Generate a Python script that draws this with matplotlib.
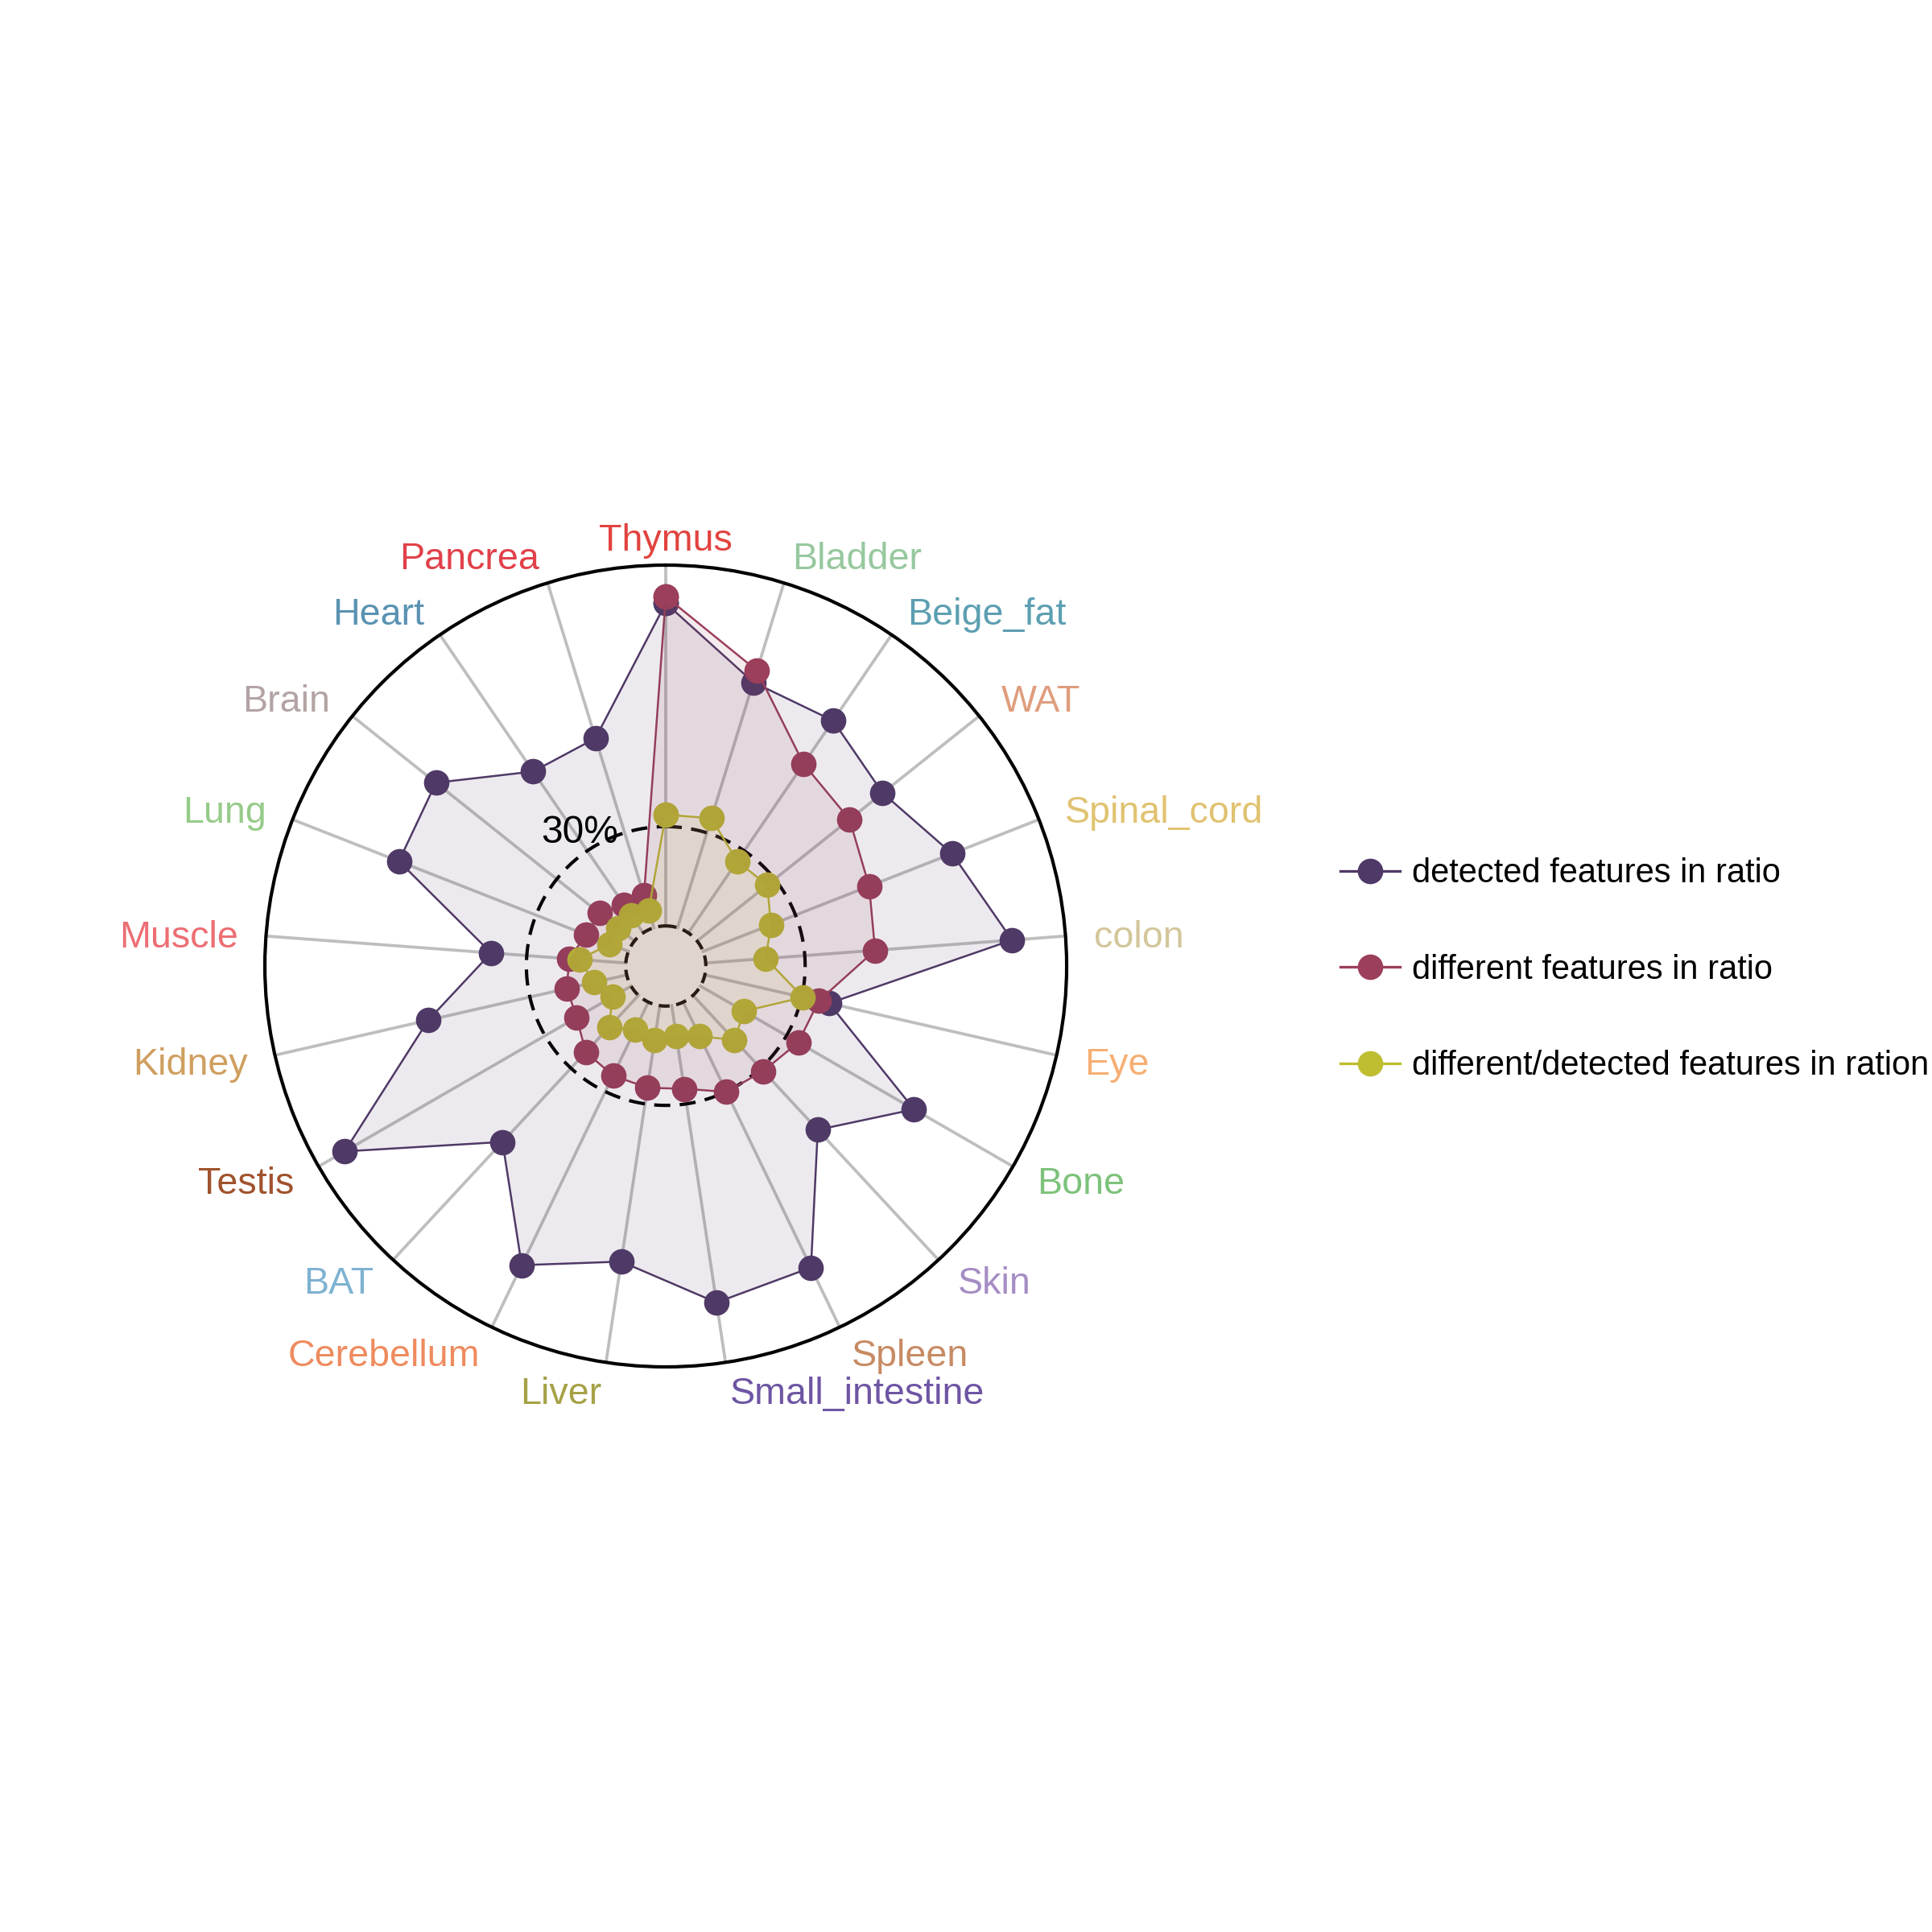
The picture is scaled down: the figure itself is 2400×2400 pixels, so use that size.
import numpy as np
import matplotlib.pyplot as plt
from matplotlib.lines import Line2D
from matplotlib.transforms import offset_copy

plt.rcParams['font.family'] = ['Liberation Sans', 'DejaVu Sans']

# tissues, clockwise from the top
tissues = ['Thymus', 'Bladder', 'Beige_fat', 'WAT', 'Spinal_cord', 'colon', 'Eye',
           'Bone', 'Skin', 'Spleen', 'Small_intestine', 'Liver', 'Cerebellum', 'BAT',
           'Testis', 'Kidney', 'Muscle', 'Lung', 'Brain', 'Heart', 'Pancrea']
label_colors = ['#E2433F', '#97C89E', '#5D9FB2', '#DF9D7D', '#E0C271', '#D3C69A', '#F6AF73',
                '#7DC27B', '#A58DC4', '#C78B64', '#6E55A3', '#A6A146', '#EE8B5E', '#7EB2D1',
                '#A0522D', '#CF9F5F', '#EC6E73', '#96CB89', '#B4A3A4', '#5A92B2', '#E1414A']

# values in percent
detected = [97.5, 77.6, 77.6, 71.7, 80.8, 92.8, 38.5, 74.5, 55.4, 89.0, 90.7,
            78.2, 88.2, 60.4, 99.9, 61.5, 40.8, 74.5, 76.7, 59.0, 59.9]
different = [99.5, 81.3, 61.8, 58.9, 53.9, 51.3, 35.3, 34.1, 31.2, 30.1, 25.4,
             25.1, 24.6, 23.4, 19.0, 18.5, 17.2, 13.7, 13.5, 10.4, 10.2]
diff_ratio = [33.6, 34.6, 26.2, 27.1, 22.0, 18.2, 30.4, 15.2, 18.4, 11.4, 9.4,
              10.5, 9.3, 13.1, 6.5, 10.1, 14.0, 6.1, 6.3, 6.3, 5.5]

series_names = ['detected features in ratio', 'different features in ratio',
                'different/detected features in ration']
series_colors = ['#4F3966', '#9C3F5A', '#BFBE31']

grid_min = 0
grid_mid = 30
grid_max = 109
centre = grid_min - (grid_max - grid_min) / 9

fig = plt.figure(figsize=(8, 8), dpi=300)
ax = fig.add_axes([0.1371, 0.2925, 0.415, 0.415], projection='polar')
ax.set_theta_offset(np.pi / 2)
ax.set_theta_direction(-1)
ax.set_ylim(centre, grid_max)
ax.set_xticks([])
ax.set_yticks([])
ax.grid(False)
ax.spines['polar'].set_color('black')
ax.spines['polar'].set_linewidth(1.0)

n = len(tissues)
theta = np.arange(n) * 2 * np.pi / n

# spokes
for t in theta:
    ax.plot([t, t], [grid_min, grid_max], color='#BEBEBE', lw=0.9, zorder=1)

# grid circles
circ = np.linspace(0, 2 * np.pi, 400)
ax.plot(circ, np.full_like(circ, grid_mid), color='black', lw=1.0,
        linestyle=(0, (4.8, 2.8)), zorder=1.5)
ax.plot(circ, np.full_like(circ, grid_min), color='black', lw=1.0,
        linestyle=(0, (3.2, 2.0)), zorder=1.5)

th = np.append(theta, theta[0])
all_series = [detected, different, diff_ratio]
for vals, col in zip(all_series, series_colors):
    v = np.append(vals, vals[0])
    ax.plot(th, v, color=col, lw=0.6, marker='o', markersize=7.6,
            markeredgewidth=0, zorder=3)
for vals, col in zip(all_series, series_colors):
    v = np.append(vals, vals[0])
    ax.fill(th, v, color=col, alpha=0.1, lw=0, zorder=4)

# axis labels
lab_trans = offset_copy(ax.transData, fig=fig, y=-1.1, units='points')
for t, name, col in zip(theta, tissues, label_colors):
    deg = np.degrees(t)
    if np.isclose(deg, 0) or np.isclose(deg, 180):
        ha = 'center'
    elif deg < 180:
        ha = 'left'
    else:
        ha = 'right'
    ax.text(t, 117.5, name, color=col, fontsize=11.2, ha=ha, va='center',
            transform=lab_trans)

ax.text(np.radians(-34.8), 33.3, '30%', fontsize=11.5, ha='center', va='baseline',
        color='black', zorder=6)

handles = [Line2D([], [], color=c, lw=0.8, marker='o', markersize=7.6,
                  markeredgewidth=0) for c in series_colors]
fig.legend(handles, series_names, loc='center left', bbox_to_anchor=(0.687, 0.498),
           frameon=False, fontsize=10, handlelength=1.76, handletextpad=0.37,
           labelspacing=1.91, borderaxespad=0)

fig.savefig('out.png', dpi=300, facecolor='white')
